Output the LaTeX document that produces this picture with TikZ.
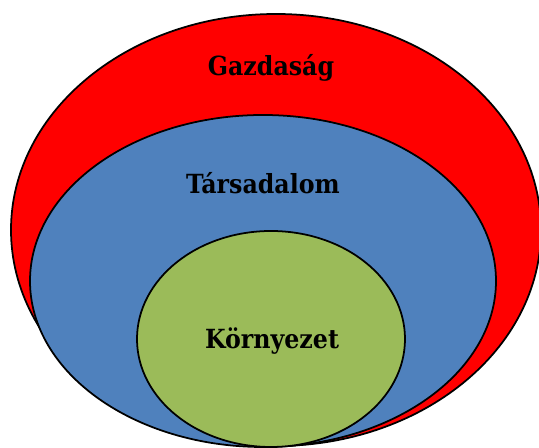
\documentclass[tikz,border=0pt]{standalone}
\usepackage{fontspec}
\setmainfont{DejaVu Serif Condensed}
\definecolor{gazd}{HTML}{FF0000}
\definecolor{tars}{HTML}{4F81BD}
\definecolor{korny}{HTML}{9BBB59}
\tikzset{
  kor/.style={draw=black, line width=1pt},
  felirat/.style={font=\fontsize{15}{18}\selectfont\bfseries, text=black}
}
\begin{document}
\begin{tikzpicture}[x=0.02cm, y=-0.02cm]
	\useasboundingbox (0,0) rectangle (539,448);
	\path
	(276,230) coordinate (G)
	(263,281) coordinate (T)
	(271,339) coordinate (K)
	;
	\draw[kor, fill=gazd] (G) ellipse [x radius=265, y radius=216];
	\draw[kor, fill=tars] (T) ellipse [x radius=233, y radius=166];
	\draw[kor, fill=korny] (K) ellipse [x radius=134, y radius=108];
	\node[felirat] (gazdasag) at (271,68) {Gazdaság};
	\node[felirat] (tarsadalom) at (263,183) {Társadalom};
	\node[felirat] (kornyezet) at (272,341) {Környezet};
\end{tikzpicture}
\end{document}
